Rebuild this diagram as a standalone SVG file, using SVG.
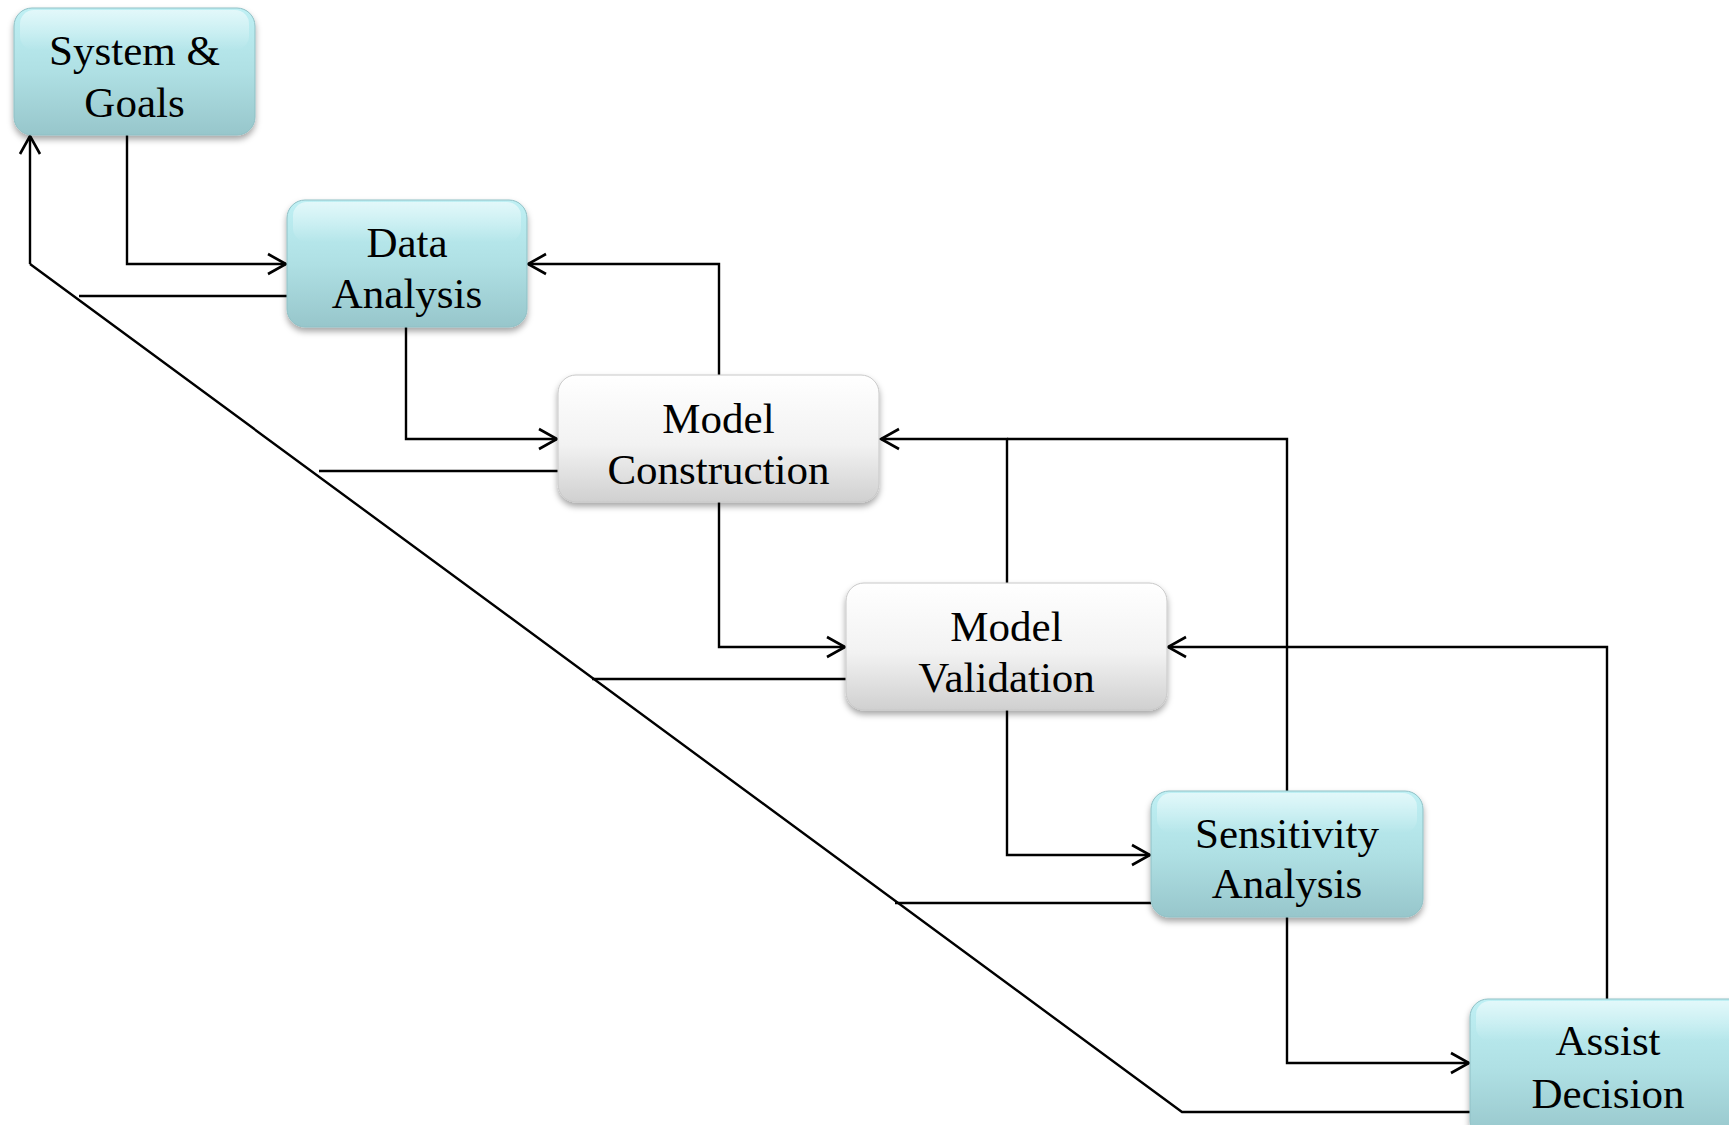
<svg xmlns="http://www.w3.org/2000/svg" width="1729" height="1125" viewBox="0 0 1729 1125">
  <style>
    .teal { fill: url(#tealFill); stroke: #8fc0c5; stroke-width: 1; filter: url(#shadow); }
    .grey { fill: url(#greyFill); stroke: #c8c8c8; stroke-width: 1; filter: url(#shadow); }
    .gloss { fill: url(#gloss); stroke: none; }
    .label { font-family: "Liberation Serif", "Times New Roman", serif; font-size: 43px; fill: #000; text-anchor: middle; }
    .wire { fill: none; stroke: #000; stroke-width: 2.4; }
    .arrow { marker-end: url(#open); }
  </style>
  <defs>
    <linearGradient id="tealFill" x1="0" y1="0" x2="0" y2="1">
      <stop offset="0" stop-color="#bff0f4"/>
      <stop offset="0.5" stop-color="#afe0e4"/>
      <stop offset="1" stop-color="#97c6cb"/>
    </linearGradient>
    <linearGradient id="greyFill" x1="0" y1="0" x2="0" y2="1">
      <stop offset="0" stop-color="#ffffff"/>
      <stop offset="0.55" stop-color="#f2f2f2"/>
      <stop offset="1" stop-color="#d0d0d0"/>
    </linearGradient>
    <linearGradient id="gloss" x1="0" y1="0" x2="0" y2="1">
      <stop offset="0" stop-color="#ffffff" stop-opacity="0.55"/>
      <stop offset="1" stop-color="#ffffff" stop-opacity="0"/>
    </linearGradient>
    <filter id="shadow" x="-10%" y="-10%" width="120%" height="130%">
      <feDropShadow dx="0" dy="4" stdDeviation="3" flood-color="#000" flood-opacity="0.35"/>
    </filter>
    <marker id="open" markerUnits="userSpaceOnUse" markerWidth="26" markerHeight="26" viewBox="-22 -13 26 26" refX="0" refY="0" orient="auto">
      <path d="M-18,-10 L0,0 L-18,10" fill="none" stroke="#000" stroke-width="2.6"/>
    </marker>
  </defs>

  <!-- connectors -->
  <g id="connectors">
    <!-- forward flow -->
    <path class="wire arrow" d="M127,135 V264 H286"/>
    <path class="wire arrow" d="M406,327 V439 H557"/>
    <path class="wire arrow" d="M719,502 V647 H845"/>
    <path class="wire arrow" d="M1007,710 V855 H1150"/>
    <path class="wire arrow" d="M1287,917 V1063 H1469"/>
    <!-- feedback loops -->
    <path class="wire arrow" d="M719,375 V264 H528"/>
    <path class="wire arrow" d="M1007,583 V439 H881"/>
    <path class="wire" d="M1287,791 V439 H1007"/>
    <path class="wire arrow" d="M1607,999 V647 H1168"/>
    <!-- return path to System & Goals -->
    <path class="wire" d="M1470,1112 H1182 L30,264"/>
    <path class="wire arrow" d="M30,264 V136"/>
    <path class="wire" d="M287,296 H79"/>
    <path class="wire" d="M558,471 H319"/>
    <path class="wire" d="M846,679 H592"/>
    <path class="wire" d="M1151,903 H895"/>
  </g>

  <!-- nodes -->
  <g id="system-goals">
    <rect class="teal" x="14" y="8" width="241" height="127" rx="18"/>
    <rect class="gloss" x="20" y="10" width="229" height="40" rx="14"/>
    <text class="label" x="134.5" y="65">System &amp;</text>
    <text class="label" x="134.5" y="117">Goals</text>
  </g>
  <g id="data-analysis">
    <rect class="teal" x="287" y="200" width="240" height="127" rx="18"/>
    <rect class="gloss" x="293" y="202" width="228" height="40" rx="14"/>
    <text class="label" x="407" y="257">Data</text>
    <text class="label" x="407" y="308">Analysis</text>
  </g>
  <g id="model-construction">
    <rect class="grey" x="558" y="375" width="321" height="127" rx="18"/>
    <text class="label" x="718.5" y="433">Model</text>
    <text class="label" x="718.5" y="484">Construction</text>
  </g>
  <g id="model-validation">
    <rect class="grey" x="846" y="583" width="321" height="127" rx="18"/>
    <text class="label" x="1006.5" y="641">Model</text>
    <text class="label" x="1006.5" y="692">Validation</text>
  </g>
  <g id="sensitivity-analysis">
    <rect class="teal" x="1151" y="791" width="272" height="126" rx="18"/>
    <rect class="gloss" x="1157" y="793" width="260" height="40" rx="14"/>
    <text class="label" x="1287" y="848">Sensitivity</text>
    <text class="label" x="1287" y="898">Analysis</text>
  </g>
  <g id="assist-decision">
    <rect class="teal" x="1470" y="999" width="290" height="140" rx="18"/>
    <rect class="gloss" x="1476" y="1001" width="278" height="40" rx="14"/>
    <text class="label" x="1608" y="1055">Assist</text>
    <text class="label" x="1608" y="1108">Decision</text>
  </g>
</svg>
